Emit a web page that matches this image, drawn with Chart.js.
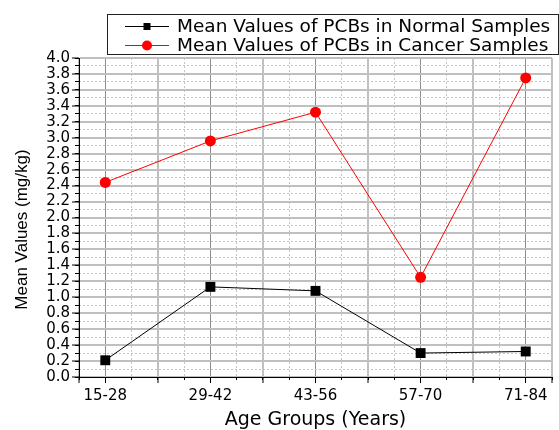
<!DOCTYPE html>
<html><head><meta charset="utf-8">
<script src="https://cdn.jsdelivr.net/npm/chart.js@4/dist/chart.umd.min.js"></script>
<style>html,body{margin:0;padding:0;background:#fff;overflow:hidden}canvas{display:block}</style>
</head><body>
<canvas id="c" width="559" height="430"></canvas>
<script>
// ---- data ----
const categories = ['15-28', '29-42', '43-56', '57-70', '71-84'];
const normalValues = [0.21, 1.13, 1.08, 0.30, 0.32];
const cancerValues = [2.44, 2.96, 3.32, 1.25, 3.75];
const seriesNames = ['Mean Values of PCBs in Normal Samples', 'Mean Values of PCBs in Cancer Samples'];
const yAxisTitle = 'Mean Values (mg/kg)';
const xAxisTitle = 'Age Groups (Years)';

const toPoints = vals => vals.map((v, i) => ({ x: i + 1, y: v }));

const TICK_FONT = { family: 'DejaVu Sans', size: 15 };
const CLEAR = 'rgba(0,0,0,0)';

// x axis: a tick at every category and halfway between categories
function halfStepTicks(scale) {
  const t = [{ value: scale.min }];
  for (let k = 2; k <= categories.length * 2; k++) t.push({ value: k / 2 });
  t.push({ value: scale.max });
  scale.ticks = t;
}
function quarterStepTicks(scale) {
  const t = [];
  for (let k = 3; k <= categories.length * 4 + 1; k++) t.push({ value: k / 4 });
  scale.ticks = t;
}

const boxLegend = {
  id: 'boxLegend',
  afterDraw(chart) {
    const ctx = chart.ctx;
    ctx.save();
    ctx.strokeStyle = '#222';
    ctx.lineWidth = 1;
    ctx.strokeRect(107.5, 14.5, 451, 40);
    const rows = [26.5, 45.5];
    chart.data.datasets.forEach((ds, i) => {
      const y = rows[i];
      ctx.strokeStyle = ds.borderColor;
      ctx.lineWidth = 1;
      ctx.beginPath();
      ctx.moveTo(125, y);
      ctx.lineTo(169, y);
      ctx.stroke();
      ctx.fillStyle = ds.backgroundColor;
      if (ds.pointStyle === 'rect') {
        ctx.fillRect(143.5, y - 3.5, 7, 7);
      } else {
        ctx.beginPath();
        ctx.arc(147, y, 5, 0, Math.PI * 2);
        ctx.fill();
      }
      ctx.fillStyle = '#000';
      ctx.font = '18.5px "DejaVu Sans"';
      ctx.textBaseline = 'middle';
      ctx.textAlign = 'left';
      ctx.fillText(ds.label, 177, y + 1);
    });
    ctx.restore();
  }
};

// y-axis title: drawn by the scale, nudged down a little (as in the original figure)
const yTitleShift = {
  id: 'yTitleShift',
  beforeDraw(chart) {
    const s = chart.scales.y;
    s._origDrawTitle = s._origDrawTitle || s.drawTitle;
    s.drawTitle = function () {
      this.ctx.save();
      this.ctx.translate(0, 12);
      this._origDrawTitle();
      this.ctx.restore();
    };
  }
};

new Chart(document.getElementById('c'), {
  type: 'line',
  data: {
    datasets: [
      {
        label: seriesNames[0],
        data: toPoints(normalValues),
        borderColor: '#000000',
        backgroundColor: '#000000',
        borderWidth: 1,
        pointStyle: 'rect',
        pointRadius: 7,
        pointHoverRadius: 7,
        pointBorderWidth: 0,
        tension: 0
      },
      {
        label: seriesNames[1],
        data: toPoints(cancerValues),
        borderColor: '#ff0000',
        backgroundColor: '#ff0000',
        borderWidth: 1,
        pointStyle: 'circle',
        pointRadius: 5.5,
        pointHoverRadius: 5.5,
        pointBorderWidth: 0,
        tension: 0
      }
    ]
  },
  options: {
    responsive: false,
    devicePixelRatio: 1,
    animation: false,
    layout: { padding: { top: 58, left: 0, right: 0, bottom: 0 } },
    plugins: { legend: { display: false }, tooltip: { enabled: false } },
    scales: {
      x: {
        type: 'linear', position: 'bottom', weight: 1,
        min: 0.75, max: 5.25,
        afterBuildTicks: halfStepTicks,
        ticks: {
          autoSkip: false, maxRotation: 0, padding: 4,
          font: TICK_FONT, color: '#000',
          callback: v => Number.isInteger(v) ? categories[v - 1] : ''
        },
        grid: {
          color: c => Number.isInteger(c.tick.value) ? '#8c8c8c' : '#c0c0c0',
          lineWidth: c => Number.isInteger(c.tick.value) ? 1 : 2,
          tickLength: 6, tickColor: '#000', tickWidth: 1
        },
        border: { color: '#000', width: 1 },
        title: { display: true, text: xAxisTitle, color: '#000',
          font: { family: 'DejaVu Sans', size: 19, lineHeight: 1 }, padding: 0 },
        afterFit: s => { s.height = 53; }
      },
      x2: {
        type: 'linear', position: 'bottom', weight: 0,
        min: 0.75, max: 5.25,
        afterBuildTicks: quarterStepTicks,
        ticks: { display: false },
        grid: {
          color: c => (Math.round(c.tick.value * 4) % 2 === 1) ? '#c4c4c4' : CLEAR,
          lineWidth: 1, tickLength: 3, tickColor: '#000'
        },
        border: { display: false, dash: [2, 2] },
        afterFit: s => { s.height = 0; }
      },
      y: {
        type: 'linear', position: 'left', weight: 1,
        min: 0, max: 4,
        ticks: {
          stepSize: 0.2, autoSkip: false, padding: 2,
          font: TICK_FONT, color: '#000',
          callback: v => v.toFixed(1)
        },
        grid: { color: '#c0c0c0', lineWidth: 2, tickLength: 7, tickColor: '#000', tickWidth: 1 },
        border: { color: '#000', width: 1 },
        title: { display: true, text: yAxisTitle, color: '#000',
          font: { family: 'Liberation Sans', size: 17 }, padding: { top: 12, bottom: 0 } },
        afterFit: s => { s.width = 79; }
      },
      y2: {
        type: 'linear', position: 'left', weight: 0,
        min: 0, max: 4,
        ticks: { display: false, stepSize: 0.1 },
        grid: {
          color: c => (Math.round(c.tick.value * 10) % 2 === 1) ? '#c4c4c4' : CLEAR,
          lineWidth: 1, tickLength: 4, tickColor: '#000'
        },
        border: { display: false, dash: [2, 2] },
        afterFit: s => { s.width = 0; }
      }
    }
  },
  plugins: [boxLegend, yTitleShift]
});
</script>
</body></html>
